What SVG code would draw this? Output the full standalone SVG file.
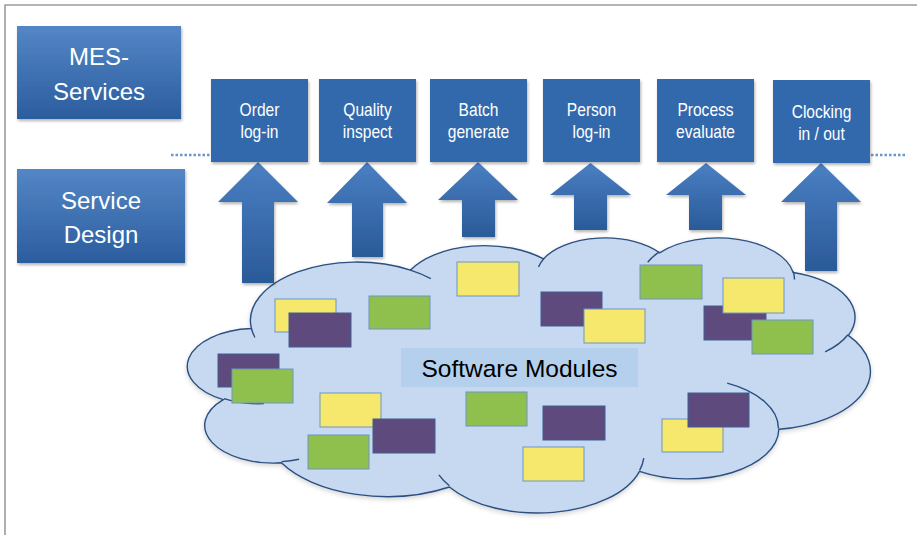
<svg xmlns="http://www.w3.org/2000/svg" width="917" height="535" viewBox="0 0 917 535">
  <defs>
    <linearGradient id="gradTier" x1="0" y1="0" x2="0" y2="1">
      <stop offset="0" stop-color="#5486c6"/>
      <stop offset="1" stop-color="#2b5d9e"/>
    </linearGradient>
    <linearGradient id="gradArrow" x1="0" y1="0" x2="0" y2="1">
      <stop offset="0" stop-color="#4a7fc3"/>
      <stop offset="1" stop-color="#2a5a98"/>
    </linearGradient>
    <filter id="shadow" x="-10%" y="-10%" width="130%" height="130%">
      <feGaussianBlur in="SourceAlpha" stdDeviation="1.6"/>
      <feOffset dx="1" dy="2" result="b"/>
      <feComponentTransfer><feFuncA type="linear" slope="0.3"/></feComponentTransfer>
      <feMerge><feMergeNode/><feMergeNode in="SourceGraphic"/></feMerge>
    </filter>
    <filter id="softShadow" x="-5%" y="-5%" width="110%" height="115%">
      <feGaussianBlur in="SourceAlpha" stdDeviation="2.5"/>
      <feOffset dx="0" dy="2" result="b"/>
      <feComponentTransfer><feFuncA type="linear" slope="0.18"/></feComponentTransfer>
      <feMerge><feMergeNode/><feMergeNode in="SourceGraphic"/></feMerge>
    </filter>
  </defs>
  <style>
    .frame { stroke: #9c9c9c; stroke-width: 1.6; fill: none; }
    .tier { fill: url(#gradTier); filter: url(#shadow); }
    .tierText { font-family: "Liberation Sans", Arial, sans-serif; font-size: 24px; fill: #ffffff; text-anchor: middle; }
    .svc { fill: #3069ad; filter: url(#shadow); }
    .svcText { font-family: "Liberation Sans", Arial, sans-serif; font-size: 17.5px; fill: #ffffff; text-anchor: middle; }
    .arrow { fill: url(#gradArrow); filter: url(#shadow); }
    .dots { stroke: #6b96c9; stroke-width: 2.5; stroke-dasharray: 2.5 2; fill: none; }
    .cloud { fill: #c6d9f0; stroke: #2b4f80; stroke-width: 1.4; filter: url(#softShadow); }
    .cloudInner { fill: none; stroke: #2b4f80; stroke-width: 1.4; }
    .mod { stroke: #6d95c2; stroke-width: 1; }
    .y { fill: #f6e86d; }
    .g { fill: #8fc04d; }
    .p { fill: #5f4a7d; stroke: #3f5f93; }
    .label { fill: #b4d0ec; }
    .labelText { font-family: "Liberation Sans", Arial, sans-serif; font-size: 24.5px; fill: #000000; text-anchor: middle; }
  </style>

  <rect width="917" height="535" fill="#ffffff"/>
  <path class="frame" d="M5,535 V5 H917"/>

  <!-- tier labels -->
  <g id="mes-services">
    <rect class="tier" x="17" y="26" width="164" height="93"/>
    <text class="tierText" x="99" y="65">MES-</text>
    <text class="tierText" x="99" y="100">Services</text>
  </g>
  <g id="service-design">
    <rect class="tier" x="17" y="169" width="168" height="94"/>
    <text class="tierText" x="101" y="209">Service</text>
    <text class="tierText" x="101" y="243">Design</text>
  </g>

  <!-- separator between the two tiers -->
  <g id="separator">
    <path class="dots" d="M171,155 H210"/>
    <path class="dots" d="M871,155 H907"/>
  </g>

  <!-- module cloud -->
  <g id="software-modules">
    <path class="cloud" d="M251.4,328.5 A106.3,58.5 0 0 1 410.5,270.1 A83.95,46.26 0 0 1 543.5,258.9 A68.71,37.84 0 0 1 659.6,252.8 A76.45,41.98 0 0 1 793.2,272.5 A83.95,46.3 0 0 1 848.3,335.4 A106.64,58.69 0 0 1 778.8,429.3 A91.06,50.08 0 0 1 639.5,471.3 A106.28,58.66 0 0 1 449.4,487 A121.52,67.11 0 0 1 281.4,462.8 A68.63,37.67 0 0 1 223.3,399.6 A68.39,37.84 0 0 1 251.4,328.5 Z"/>
    <path class="cloudInner" d="M263.9,403.6 A68.39,37.84 0 0 1 224,398.6 M299.1,459.2 A68.63,37.67 0 0 1 281.6,461.6 M449.4,485.8 A106.28,58.66 0 0 1 438.9,474.8 M643.8,458.2 A106.28,58.66 0 0 1 639.6,470.4 M727.2,383.1 A91.06,50.08 0 0 1 778.4,428.5 M847.9,334.7 A83.95,46.3 0 0 1 825.1,351.8 M793.2,271.5 A76.45,41.98 0 0 1 794.5,279.6 M647.7,262.2 A76.45,41.98 0 0 1 659.4,251.9 M538.5,267 A68.71,37.84 0 0 1 544.2,258.2 M410.4,270.1 A106.3,58.5 0 0 1 430.8,278.6 M255,337.5 A106.3,58.5 0 0 1 251.4,328.5"/>

    <rect class="label" x="401" y="348" width="237" height="39"/>
    <text class="labelText" x="519.5" y="377">Software Modules</text>

    <rect class="mod y" x="275" y="299" width="61" height="33"/>
    <rect class="mod p" x="289" y="313" width="62" height="34"/>
    <rect class="mod g" x="369" y="296" width="61" height="33"/>
    <rect class="mod y" x="457" y="262" width="62" height="34"/>
    <rect class="mod p" x="218" y="354" width="61" height="33"/>
    <rect class="mod g" x="232" y="369" width="61" height="34"/>
    <rect class="mod y" x="320" y="393" width="61" height="34"/>
    <rect class="mod p" x="373" y="419" width="62" height="34"/>
    <rect class="mod g" x="308" y="435" width="61" height="34"/>
    <rect class="mod g" x="466" y="392" width="61" height="34"/>
    <rect class="mod p" x="541" y="292" width="61" height="34"/>
    <rect class="mod y" x="584" y="309" width="61" height="34"/>
    <rect class="mod g" x="640" y="265" width="62" height="34"/>
    <rect class="mod p" x="704" y="306" width="62" height="34"/>
    <rect class="mod y" x="723" y="278" width="61" height="35"/>
    <rect class="mod g" x="752" y="320" width="61" height="34"/>
    <rect class="mod p" x="543" y="406" width="62" height="34"/>
    <rect class="mod y" x="523" y="447" width="61" height="34"/>
    <rect class="mod y" x="662" y="419" width="61" height="33"/>
    <rect class="mod p" x="688" y="393" width="61" height="34"/>
  </g>

  <!-- upward block arrows from the modules to the services -->
  <g id="connectors">
    <path class="arrow" d="M258,162 L298,202 H274 V283 H242 V202 H218 Z"/>
    <path class="arrow" d="M367,162 L407,203 H383 V257 H352 V203 H327 Z"/>
    <path class="arrow" d="M478,162 L518,200 H495 V237 H462 V200 H438 Z"/>
    <path class="arrow" d="M590.5,163 L631,195 H607 V230 H574 V195 H550 Z"/>
    <path class="arrow" d="M706,163 L746,195 H722 V230 H689 V195 H666 Z"/>
    <path class="arrow" d="M821,163 L861,202 H837 V271 H805 V202 H781 Z"/>
  </g>

  <!-- MES services -->
  <g id="order-login">
    <rect class="svc" x="211" y="79" width="97" height="83"/>
    <text class="svcText" transform="translate(259.5 116) scale(0.89 1)">Order</text>
    <text class="svcText" transform="translate(259.5 138) scale(0.89 1)">log-in</text>
  </g>
  <g id="quality-inspect">
    <rect class="svc" x="319" y="79" width="97" height="83"/>
    <text class="svcText" transform="translate(367.5 116) scale(0.89 1)">Quality</text>
    <text class="svcText" transform="translate(367.5 138) scale(0.89 1)">inspect</text>
  </g>
  <g id="batch-generate">
    <rect class="svc" x="430" y="79" width="97" height="83"/>
    <text class="svcText" transform="translate(478.5 116) scale(0.89 1)">Batch</text>
    <text class="svcText" transform="translate(478.5 138) scale(0.89 1)">generate</text>
  </g>
  <g id="person-login">
    <rect class="svc" x="543" y="79" width="97" height="83"/>
    <text class="svcText" transform="translate(591.5 116) scale(0.89 1)">Person</text>
    <text class="svcText" transform="translate(591.5 138) scale(0.89 1)">log-in</text>
  </g>
  <g id="process-evaluate">
    <rect class="svc" x="657" y="79" width="97" height="83"/>
    <text class="svcText" transform="translate(705.5 116) scale(0.89 1)">Process</text>
    <text class="svcText" transform="translate(705.5 138) scale(0.89 1)">evaluate</text>
  </g>
  <g id="clocking-in-out">
    <rect class="svc" x="773" y="80" width="97" height="83"/>
    <text class="svcText" transform="translate(821.5 118) scale(0.89 1)">Clocking</text>
    <text class="svcText" transform="translate(821.5 139.5) scale(0.89 1)">in / out</text>
  </g>
</svg>
